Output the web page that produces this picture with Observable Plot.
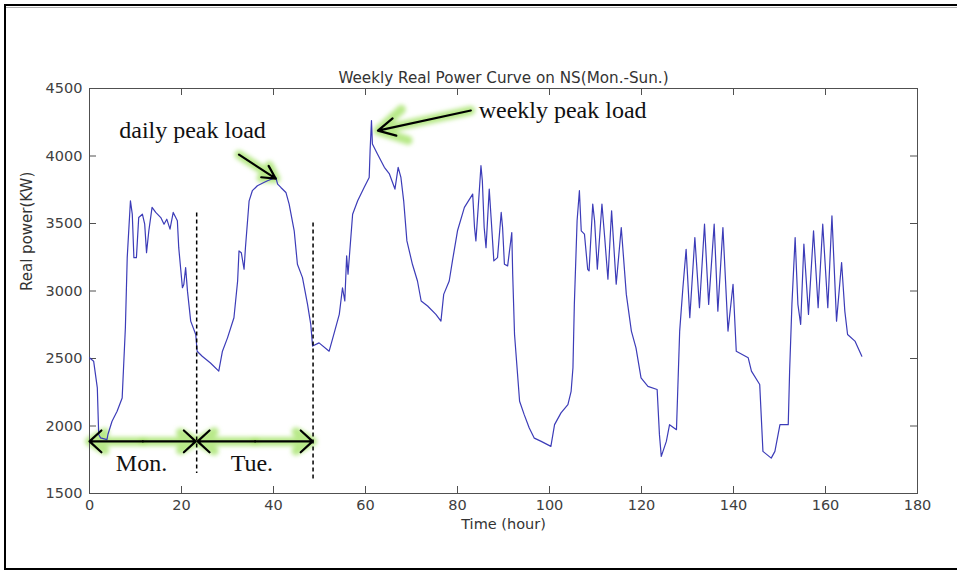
<!DOCTYPE html>
<html><head><meta charset="utf-8">
<script src="https://cdn.jsdelivr.net/npm/d3@7"></script>
<script src="https://cdn.jsdelivr.net/npm/@observablehq/plot@0.6"></script>
<style>
html,body{margin:0;padding:0;background:#fff;}
#wrap{position:relative;width:957px;height:571px;overflow:hidden;background:#fff;}
#chart{position:absolute;left:0;top:0;}
#frame{position:absolute;left:4px;top:4px;width:980px;height:566px;border-left:2px solid #000;border-top:2px solid #000;border-bottom:2px solid #000;box-sizing:border-box;pointer-events:none;}
#gray{position:absolute;left:6px;top:7px;width:951px;height:1px;background:#b0b0b0;}
</style></head>
<body>
<div id="wrap"><div id="chart"></div><div id="frame"></div><div id="gray"></div></div>
<script>
// ---- data ----
const hours = [0,0.9,1.7,2.0,2.4,3.8,4.0,4.9,6.0,7.1,7.8,8.2,8.9,9.3,9.65,10.2,10.7,11.5,12.0,12.4,12.9,13.6,14.4,15.5,16.2,16.8,17.5,18.2,19.1,19.4,20.2,20.5,20.9,21.3,22.0,23.1,23.4,24.5,26.3,28.1,28.9,30.0,31.4,32.2,32.5,33.0,33.6,33.9,34.7,35.4,36.5,37.9,38.7,40.5,40.9,41.6,42.7,43.4,44.5,45.2,46.3,47.4,48.1,48.5,49.9,52.1,53.2,54.3,55.0,55.5,55.9,56.2,57.2,58.3,59.7,60.8,61.0,61.3,61.5,62.6,64.1,65.2,66.4,67.1,67.7,68.3,69.0,70.2,71.3,72.1,73.5,75.3,76.4,77.0,78.2,78.9,80.0,81.5,83.3,83.7,84.0,84.5,85.1,85.4,85.8,86.2,86.9,87.3,87.9,88.7,89.5,89.8,90.2,90.9,91.8,92.0,92.4,93.5,94.5,95.6,96.7,98.2,100.3,101.1,102.5,104.0,104.7,105.1,105.4,106.0,106.5,106.9,107.6,108.3,108.6,109.4,109.8,110.4,111.4,112.0,112.7,113.5,114.5,115.6,116.7,117.8,118.8,119.9,121.4,123.4,123.9,124.3,125.4,126.1,127.6,128.3,129.0,129.7,130.5,131.6,132.6,133.7,134.6,135.8,136.6,137.7,138.8,139.9,140.6,143.2,143.9,145.7,146.4,148.2,149.0,150.1,151.9,152.2,152.7,153.4,154.0,154.6,155.3,156.3,157.4,158.4,159.4,160.5,161.4,162.4,163.5,164.2,164.8,166.4,167.9];
const power = [2505,2480,2282,1937,1912,1899,1937,2035,2109,2208,2728,3247,3668,3569,3247,3247,3544,3569,3495,3284,3446,3619,3582,3544,3495,3532,3458,3582,3520,3321,3024,3048,3173,2999,2777,2678,2554,2517,2467,2406,2554,2653,2802,3074,3297,3284,3161,3321,3668,3743,3780,3804,3817,3841,3792,3767,3730,3644,3446,3198,3099,2901,2753,2592,2616,2554,2690,2827,3024,2926,3260,3124,3569,3668,3767,3841,4040,4262,4089,4015,3916,3867,3755,3916,3841,3668,3371,3198,3074,2926,2889,2827,2777,2975,3074,3223,3446,3619,3718,3470,3371,3619,3928,3817,3470,3321,3755,3544,3223,3247,3582,3470,3198,3186,3433,3124,2678,2183,2084,1985,1910,1886,1849,2010,2097,2159,2257,2431,2901,3520,3743,3446,3421,3161,3149,3644,3520,3161,3644,3396,3087,3594,3050,3470,2975,2703,2579,2356,2294,2270,1936,1775,1886,2010,1973,2703,3024,3309,2802,3396,2876,3495,2901,3495,2851,3470,2703,3050,2554,2505,2406,2307,1812,1762,1812,2010,2010,2406,2901,3396,2901,2753,3347,2827,3446,2876,3495,2876,3557,2777,3211,2851,2678,2629,2517];
const xTicks = [0,20,40,60,80,100,120,140,160,180];
const yTicks = [1500,2000,2500,3000,3500,4000,4500];
const titleText = "Weekly Real Power Curve on NS(Mon.-Sun.)";
const xLabel = "Time (hour)";
const yLabel = "Real power(KW)";
const peakLabels = ["daily peak load", "weekly peak load"];
const dayLabels = ["Mon.", "Tue."];
const dayBounds = [0, 23.3, 48.6];   // hour boundaries of the first two days

const series = hours.map((h, i) => ({h, p: power[i]}));

// annotation anchors (in data units: hours, KW)
const peakArrows = [
  {x1: 32.5, y1: 4010, x2: 40.5, y2: 3832},
  {x1: 82.9, y1: 4337, x2: 62.7, y2: 4188}
];
const dayArrowY = 1886;
const dayArrows = [
  {x1: 11.6, y1: dayArrowY, x2: 0, y2: dayArrowY},
  {x1: 11.6, y1: dayArrowY, x2: 23.1, y2: dayArrowY},
  {x1: 36.0, y1: dayArrowY, x2: 23.5, y2: dayArrowY},
  {x1: 36.0, y1: dayArrowY, x2: 48.5, y2: dayArrowY}
];
const dividers = [
  {x: dayBounds[1], y1: 3581, y2: 1651},
  {x: dayBounds[2], y1: 3507, y2: 1589}
];
const dayText = [
  {x: 11.3, y: 1723, t: dayLabels[0]},
  {x: 35.3, y: 1723, t: dayLabels[1]}
];

const sans = "'DejaVu Sans', Arial, sans-serif";
const serif = "'Liberation Serif', 'Times New Roman', serif";
const axisColor = "#505050";
const W = 957, H = 571, ML = 89, MR = 40, MT = 88, MB = 78;
const fw = W - ML - MR, fh = H - MT - MB, tk = 7;

const chart = Plot.plot({
  width: W, height: H,
  marginLeft: ML, marginRight: MR, marginTop: MT, marginBottom: MB,
  style: {background: "transparent", fontFamily: sans, fontSize: "14px", color: "#404040"},
  x: {domain: [0, 180]},
  y: {domain: [1500, 4500]},
  marks: [
    // glow under arrows
    Plot.arrow([...peakArrows, ...dayArrows], {x1: "x1", y1: "y1", x2: "x2", y2: "y2", stroke: "#a6e36a", strokeWidth: 9, strokeOpacity: 0.8, headLength: 10, headAngle: 60}),
    Plot.frame({stroke: axisColor, strokeWidth: 1}),
    Plot.ruleX(xTicks, {x: d => d, insetTop: fh - tk, stroke: axisColor}),
    Plot.ruleX(xTicks, {x: d => d, insetBottom: fh - tk, stroke: axisColor}),
    Plot.ruleY(yTicks, {y: d => d, insetRight: fw - tk, stroke: axisColor}),
    Plot.ruleY(yTicks, {y: d => d, insetLeft: fw - tk, stroke: axisColor}),
    Plot.axisX({ticks: xTicks, tickFormat: d => String(d), tickSize: 0, tickPadding: 6, label: null, fontSize: 14.5, fill: "#404040"}),
    Plot.axisY({ticks: yTicks, tickFormat: d => String(d), tickSize: 0, tickPadding: 7, label: null, fontSize: 14.5, fill: "#404040"}),
    Plot.text([titleText], {frameAnchor: "top", dy: -16, text: d => d, fontSize: 15.2, fill: "#333"}),
    Plot.text([xLabel], {frameAnchor: "bottom", dy: 35, text: d => d, fontSize: 14.5, fill: "#333"}),
    Plot.text([yLabel], {frameAnchor: "left", dx: -62, rotate: -90, text: d => d, fontSize: 15, fill: "#333"}),
    Plot.line(series, {x: "h", y: "p", stroke: "#3c3cb8", strokeWidth: 1.2}),
    Plot.link(dividers, {x1: "x", x2: "x", y1: "y1", y2: "y2", stroke: "#000", strokeWidth: 1.5, strokeDasharray: "4,3"}),
    Plot.arrow(peakArrows, {x1: "x1", y1: "y1", x2: "x2", y2: "y2", stroke: "#000", strokeWidth: 2.2, headLength: 13, headAngle: 55}),
    Plot.arrow(dayArrows, {x1: "x1", y1: "y1", x2: "x2", y2: "y2", stroke: "#000", strokeWidth: 2.2, headLength: 11, headAngle: 85}),
    Plot.text([peakLabels[0]], {x: 22.4, y: 4188, text: d => d, textAnchor: "middle", fontFamily: serif, fontSize: 24, fill: "#111"}),
    Plot.text([peakLabels[1]], {x: 84.6, y: 4337, text: d => d, textAnchor: "start", fontFamily: serif, fontSize: 24, fill: "#111"}),
    Plot.text(dayText, {x: "x", y: "y", text: "t", fontFamily: serif, fontSize: 24, fill: "#111"})
  ]
});

// soft blur for the green glow
const ns = "http://www.w3.org/2000/svg";
const defs = document.createElementNS(ns, "defs");
defs.innerHTML = '<filter id="glow" x="-20%" y="-50%" width="140%" height="200%"><feGaussianBlur stdDeviation="2.2"/></filter>';
chart.insertBefore(defs, chart.firstChild);
const arrowGroups = chart.querySelectorAll('g[aria-label="arrow"]');
if (arrowGroups.length) arrowGroups[0].setAttribute("filter", "url(#glow)");

document.getElementById("chart").appendChild(chart);
</script>
</body></html>
